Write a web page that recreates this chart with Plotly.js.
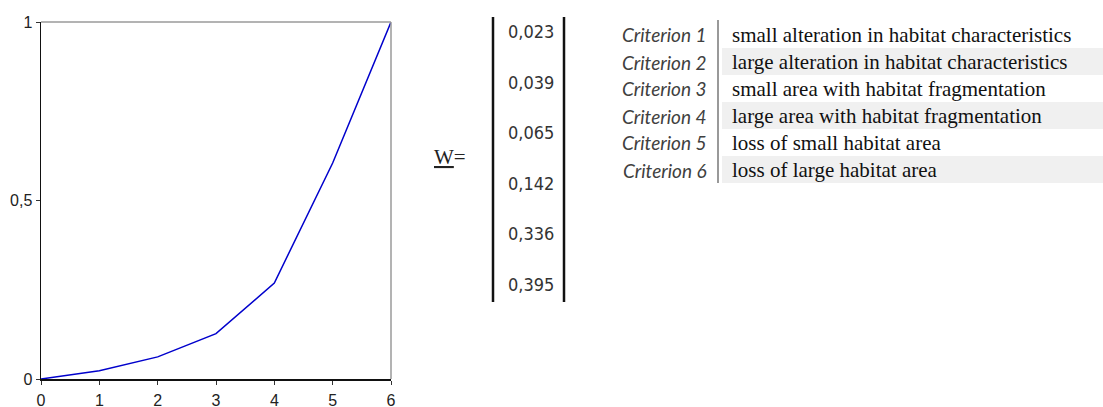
<!DOCTYPE html>
<html>
<head>
<meta charset="utf-8">
<script src="https://cdn.plot.ly/plotly-3.0.1.min.js"></script>
<style>html,body{margin:0;padding:0;background:#fff;}#chart{width:1103px;height:407px;}</style>
</head>
<body>
<div id="chart"></div>
<script>
// ---- data ----
const xValues = [0, 1, 2, 3, 4, 5, 6];
const yValues = [0, 0.023, 0.062, 0.127, 0.269, 0.605, 1];
const yTickVals = [0, 0.5, 1];
const weights = ["0,023", "0,039", "0,065", "0,142", "0,336", "0,395"];
const criteria = ["Criterion 1", "Criterion 2", "Criterion 3", "Criterion 4", "Criterion 5", "Criterion 6"];
const descriptions = [
  "small alteration in habitat characteristics",
  "large alteration in habitat characteristics",
  "small area with habitat fragmentation",
  "large area with habitat fragmentation",
  "loss of small habitat area",
  "loss of large habitat area"
];

// ---- layout helpers (pixel -> paper) ----
const W = 1103, H = 407;
const px = v => v / W;
const py = v => 1 - v / H;

const shapes = [];
const annotations = [];

// plot frame top/right (grey)
shapes.push({type:'line', xref:'x domain', yref:'y domain', x0:0, x1:1, y0:1, y1:1, line:{color:'#9a9a9a', width:1.5}});
shapes.push({type:'line', xref:'x domain', yref:'y domain', x0:1, x1:1, y0:0, y1:1, line:{color:'#9a9a9a', width:1.5}});

// W= label
annotations.push({xref:'paper', yref:'paper', x:px(450), y:py(157), xanchor:'center', yanchor:'middle',
  text:'<u>W</u>=', showarrow:false, font:{family:'Liberation Serif', size:21, color:'#222'}});

// matrix bars
shapes.push({type:'line', xref:'paper', yref:'paper', x0:px(493), x1:px(493), y0:py(17), y1:py(302), line:{color:'#111', width:2.5}});
shapes.push({type:'line', xref:'paper', yref:'paper', x0:px(564), x1:px(564), y0:py(17), y1:py(302), line:{color:'#111', width:2.5}});

// matrix values
weights.forEach((w, i) => {
  annotations.push({xref:'paper', yref:'paper', x:px(531), y:py(32 + i * 50.4), xanchor:'center', yanchor:'middle',
    text:w, showarrow:false, font:{family:'DejaVu Sans Condensed', size:18, color:'#333'}});
});

// table bands
criteria.forEach((c, i) => {
  const top = 21 + i * 27;
  if (i % 2 === 1) {
    shapes.push({type:'rect', xref:'paper', yref:'paper', x0:px(722), x1:px(1103), y0:py(top), y1:py(top + 27),
      fillcolor:'#f0f0f0', line:{width:0}, layer:'below'});
  }
  annotations.push({xref:'paper', yref:'paper', x:px(709), y:py(top + 14), xanchor:'right', yanchor:'middle',
    text:'<i>' + c + '</i>', showarrow:false, font:{family:'Lato', size:19, color:'#404040'}});
  annotations.push({xref:'paper', yref:'paper', x:px(730), y:py(top + 14), xanchor:'left', yanchor:'middle',
    text:descriptions[i], showarrow:false, font:{family:'Liberation Serif', size:21, color:'#111'}});
});
// table divider
shapes.push({type:'line', xref:'paper', yref:'paper', x0:px(718), x1:px(718), y0:py(20), y1:py(183), line:{color:'#555', width:1.2}});

const trace = {
  x: xValues, y: yValues, type:'scatter', mode:'lines',
  line:{color:'#0000cc', width:1.5}, hoverinfo:'skip'
};

const layout = {
  width: W, height: H,
  margin:{l:0, r:0, t:0, b:0},
  paper_bgcolor:'#fff', plot_bgcolor:'#fff',
  showlegend:false,
  separators:',.',
  xaxis:{
    domain:[px(41), px(391)], range:[0, 6], tickvals:xValues, ticks:'outside', ticklen:4, tickcolor:'#333',
    showline:true, linecolor:'#111', linewidth:1.5, showgrid:false, zeroline:false,
    tickfont:{family:'Liberation Sans', size:16, color:'#222'}, ticklabelstandoff:2, fixedrange:true
  },
  yaxis:{
    domain:[1 - 379 / H, 1 - 22 / H], range:[0, 1], tickvals:yTickVals, ticks:'outside', ticklen:4, tickcolor:'#333',
    showline:true, linecolor:'#111', linewidth:1.5, showgrid:false, zeroline:false,
    tickfont:{family:'Liberation Sans', size:16, color:'#222'}, ticklabelstandoff:0, fixedrange:true
  },
  shapes: shapes,
  annotations: annotations
};

Plotly.newPlot('chart', [trace], layout, {displayModeBar:false, staticPlot:true});
</script>
</body>
</html>
